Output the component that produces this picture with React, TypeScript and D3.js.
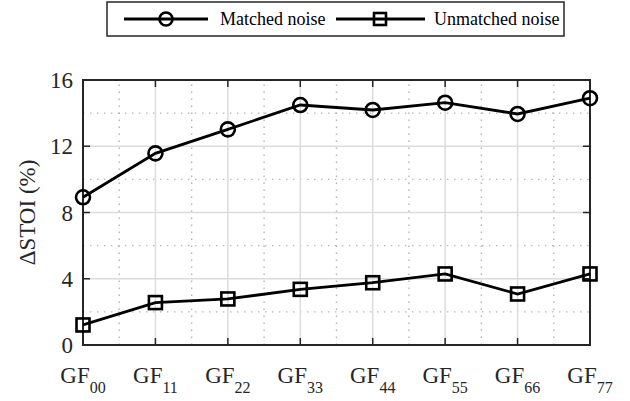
import React from 'react';
import * as d3 from 'd3';

const categories = ['GF00', 'GF11', 'GF22', 'GF33', 'GF44', 'GF55', 'GF66', 'GF77'];
const matchedNoise = [8.92, 11.57, 13.02, 14.49, 14.19, 14.63, 13.95, 14.9];
const unmatchedNoise = [1.21, 2.56, 2.78, 3.36, 3.76, 4.29, 3.08, 4.29];
const yTicks = [0, 4, 8, 12, 16];
const yMinorTicks = [2, 6, 10, 14];
const seriesNames = ['Matched noise', 'Unmatched noise'];

const width = 630, height = 401;
const margin = { left: 83, right: 40, top: 80, bottom: 56 };
const font = 'Liberation Serif, Times New Roman, serif';

const App = () => {
  const x = d3.scalePoint<string>()
    .domain(categories)
    .range([margin.left, width - margin.right]);
  const y = d3.scaleLinear()
    .domain([0, 16])
    .range([height - margin.bottom, margin.top]);

  const x0 = margin.left, x1 = width - margin.right;
  const y0 = height - margin.bottom, y1 = margin.top;
  const step = x.step();

  const line = d3.line<number>()
    .x((d, i) => x(categories[i])!)
    .y(d => y(d));

  // dotted minor lines halfway between the categories
  const xMinor = categories.slice(1).map(c => x(c)! - step / 2);

  const tickLen = 7;
  const txt = { fontFamily: font };

  return (
    <svg width={width} height={height} style={{ position: 'absolute', left: 0, top: 0, background: '#fff' }}>
      <rect x={0} y={0} width={width} height={height} fill="#fff" />

      {/* minor grid */}
      <g stroke="#b3b3b3" strokeWidth={1.4} strokeDasharray="1.4 5.6">
        {yMinorTicks.map(t => (
          <line key={'ym' + t} x1={x0} x2={x1} y1={y(t)} y2={y(t)} />
        ))}
        {xMinor.map((v, i) => (
          <line key={'xm' + i} x1={v} x2={v} y1={y0} y2={y1} />
        ))}
      </g>

      {/* major grid */}
      <g stroke="#dcdcdc" strokeWidth={1.5}>
        {yTicks.slice(1, -1).map(t => (
          <line key={'yg' + t} x1={x0} x2={x1} y1={y(t)} y2={y(t)} />
        ))}
        {categories.slice(1, -1).map(c => (
          <line key={'xg' + c} x1={x(c)} x2={x(c)} y1={y0} y2={y1} />
        ))}
      </g>

      {/* tick marks, inside */}
      <g stroke="#262626" strokeWidth={1.5}>
        {categories.map(c => (
          <g key={'xt' + c}>
            <line x1={x(c)} x2={x(c)} y1={y0} y2={y0 - tickLen} />
            <line x1={x(c)} x2={x(c)} y1={y1} y2={y1 + tickLen} />
          </g>
        ))}
        {yTicks.map(t => (
          <g key={'yt' + t}>
            <line x1={x0} x2={x0 + tickLen} y1={y(t)} y2={y(t)} />
            <line x1={x1} x2={x1 - tickLen} y1={y(t)} y2={y(t)} />
          </g>
        ))}
      </g>

      {/* box */}
      <rect x={x0} y={y1} width={x1 - x0} height={y0 - y1} fill="none" stroke="#262626" strokeWidth={2} />

      {/* series */}
      <path d={line(matchedNoise)!} fill="none" stroke="#000" strokeWidth={2.8} />
      <path d={line(unmatchedNoise)!} fill="none" stroke="#000" strokeWidth={2.8} />
      {matchedNoise.map((v, i) => (
        <circle key={'c' + i} cx={x(categories[i])} cy={y(v)} r={7} fill="none" stroke="#000" strokeWidth={2.6} />
      ))}
      {unmatchedNoise.map((v, i) => (
        <rect key={'s' + i} x={x(categories[i])! - 6.5} y={y(v) - 6.5} width={13} height={13}
          fill="none" stroke="#000" strokeWidth={2.6} />
      ))}

      {/* y tick labels */}
      <g style={txt} fontSize={23} fill="#262626" textAnchor="end">
        {yTicks.map(t => (
          <text key={'yl' + t} x={x0 - 10} y={y(t)} dy="0.35em">{t}</text>
        ))}
      </g>

      {/* x tick labels */}
      <g style={txt} fill="#262626">
        {categories.map(c => (
          <text key={'xl' + c} x={x(c)} y={383} textAnchor="middle" fontSize={23}>
            {c.slice(0, 2)}
            <tspan fontSize={16} dy={10}>{c.slice(2)}</tspan>
          </text>
        ))}
      </g>

      {/* y label */}
      <text transform={`translate(35,${(y0 + y1) / 2}) rotate(-90)`} textAnchor="middle"
        style={txt} fontSize={23} fill="#262626">ΔSTOI (%)</text>

      {/* legend */}
      <g>
        <rect x={107} y={2} width={457} height={34} fill="#fff" stroke="#262626" strokeWidth={1.5} />
        <line x1={124} x2={208} y1={19} y2={19} stroke="#000" strokeWidth={2.8} />
        <circle cx={166} cy={19} r={6.5} fill="none" stroke="#000" strokeWidth={2.6} />
        <text x={220} y={19} dy="0.35em" style={txt} fontSize={18} fill="#000">{seriesNames[0]}</text>
        <line x1={336} x2={425} y1={19} y2={19} stroke="#000" strokeWidth={2.8} />
        <rect x={374} y={13} width={12} height={12} fill="none" stroke="#000" strokeWidth={2.6} />
        <text x={434} y={19} dy="0.35em" style={txt} fontSize={18} fill="#000">{seriesNames[1]}</text>
      </g>
    </svg>
  );
};

export default App;
